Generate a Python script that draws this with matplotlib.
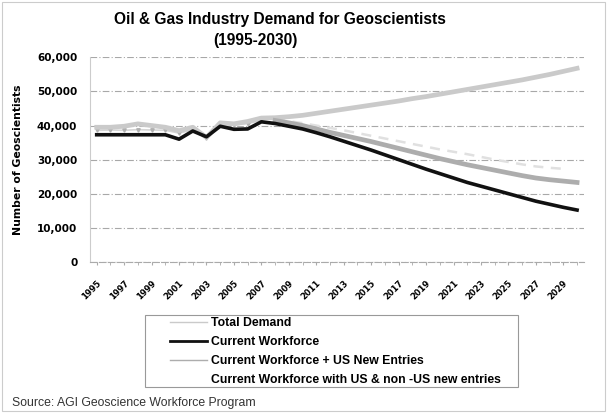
import matplotlib.pyplot as plt
from matplotlib.patches import Rectangle

plt.rcParams['font.family'] = ['Liberation Sans', 'DejaVu Sans']

anos = list(range(1995, 2031))

# Demanda total (historico + projecao)
total_demand = [39500, 39500, 39800, 40500, 40000, 39500, 38500, 39500, 36500, 40800,
                40500, 41200, 42200, 42300, 42600, 43000, 43600, 44200, 44800, 45400,
                46000, 46600, 47200, 47900, 48500, 49200, 49900, 50600, 51300, 52000,
                52700, 53400, 54200, 55000, 55900, 56800]

# Forca de trabalho atual
current_workforce = [37300, 37300, 37300, 37300, 37300, 37300, 36000, 38400, 36700, 39800,
                     38900, 39000, 41100, 40600, 39800, 39000, 37900, 36700, 35400, 34100,
                     32800, 31400, 30000, 28600, 27200, 25900, 24600, 23300, 22200, 21100,
                     20000, 18900, 17800, 16900, 16000, 15200]

# Forca atual + novos entrantes dos EUA (projecao a partir de 2008)
us_anos = list(range(2008, 2031))
us_new_entries = [41500, 40800, 40000, 39000, 38000, 37100, 36200, 35300, 34300, 33300,
                  32300, 31300, 30300, 29400, 28500, 27700, 26900, 26100, 25300, 24600,
                  24100, 23700, 23300]

# historico com marcadores (faixa clara no inicio)
hist_anos = list(range(1995, 2008))
hist_markers = [38600, 38700, 38600, 38800, 38700, 38600, 37800, 38700, 36400, 40300,
                40200, 40600, 41500]

# EUA + fora dos EUA
nonus_anos = list(range(2008, 2030))
nonus_entries = [41800, 41300, 40700, 40000, 39300, 38600, 37800, 37000, 36200, 35400,
                 34600, 33800, 33000, 32300, 31600, 30800, 30000, 29300, 28600, 28000,
                 27600, 27300]

rotulos_x = [str(a) for a in range(1995, 2030, 2)]

fig = plt.figure(figsize=(6.07, 4.13), dpi=100)
ax = fig.add_axes([0.148, 0.366, 0.814, 0.495])

ax.plot(hist_anos, hist_markers, color="#d6d6d6", linewidth=1.2, marker="v",
        markersize=2.5, markerfacecolor="#b0b0b0", markeredgecolor="#b0b0b0", zorder=2)
ax.plot(anos, total_demand, color="#cacaca", linewidth=3.4, label="Total Demand", zorder=3)
ax.plot(nonus_anos, nonus_entries, color="#e0e0e0", linewidth=1.8, linestyle=(0, (4, 3)),
        label="Current Workforce with US & non -US new entries", zorder=2)
ax.plot(us_anos, us_new_entries, color="#adadad", linewidth=3.4,
        label="Current Workforce + US New Entries", zorder=3)
ax.plot(anos, current_workforce, color="#111111", linewidth=2.6,
        label="Current Workforce", zorder=4)

ax.set_xlim(1994.5, 2030.5)
ax.set_ylim(0, 60000)
ax.set_yticks(range(0, 60001, 10000))
ax.set_yticklabels([f"{v:,}" for v in range(0, 60001, 10000)],
                   fontsize=7.5, fontweight="bold", family="DejaVu Sans")
ax.set_xticks(range(1995, 2030, 2))
ax.set_xticklabels(rotulos_x, rotation=45, fontsize=6, fontweight="bold",
                   family="DejaVu Sans", ha="right", rotation_mode="anchor")
ax.set_xticks(range(1995, 2031), minor=True)
ax.tick_params(axis="x", which="both", length=2, color="#aaaaaa", pad=10)
ax.tick_params(axis="y", length=0, pad=9)
ax.set_ylabel("Number of Geoscientists", fontsize=7.8, fontweight="bold",
              family="DejaVu Sans", labelpad=10)

ax.grid(axis="y", color="#a8a8a8", linestyle=(0, (6, 2, 1, 2)), linewidth=0.8)
ax.set_axisbelow(True)
for lado in ["top", "right"]:
    ax.spines[lado].set_visible(False)
ax.spines["left"].set_color("#cccccc")
ax.spines["bottom"].set_color("#aaaaaa")
ax.spines["bottom"].set_linestyle((0, (6, 2)))

fig.text(0.462, 0.953, "Oil & Gas Industry Demand for Geoscientists", ha="center",
         va="center", fontsize=11.2, fontweight="bold")
fig.text(0.42, 0.902, "(1995-2030)", ha="center", va="center",
         fontsize=11.2, fontweight="bold")

# moldura da legenda desenhada a parte
fig.patches.append(Rectangle((145 / 607, 1 - 387 / 413), 373 / 607, 72 / 413,
                             transform=fig.transFigure, fill=False,
                             edgecolor="#999999", linewidth=0.8))

handles, labels = ax.get_legend_handles_labels()
ordem = ["Total Demand", "Current Workforce", "Current Workforce + US New Entries",
         "Current Workforce with US & non -US new entries"]
mapa = dict(zip(labels, handles))
leg = fig.legend([mapa[o] for o in ordem], ordem, loc="upper left",
                 bbox_to_anchor=(168 / 607, 1 - 315 / 413), fontsize=8.8,
                 frameon=False, handlelength=3.0, borderpad=0.2, labelspacing=0.55,
                 handletextpad=0.35, borderaxespad=0)
for t in leg.get_texts():
    t.set_fontweight("bold")
leg.legend_handles[0].set_linewidth(1)
leg.legend_handles[2].set_linewidth(1)
leg.legend_handles[1].set_linewidth(2)
leg.legend_handles[3].set_alpha(0)

fig.text(0.02, 0.024, "Source: AGI Geoscience Workforce Program", fontsize=8.8,
         color="#333333", va="center")

fig.patches.append(Rectangle((0.004, 0.004), 0.992, 0.992, transform=fig.transFigure,
                             fill=False, edgecolor="#cccccc", linewidth=0.8))

fig.savefig("out.png", dpi=100)
